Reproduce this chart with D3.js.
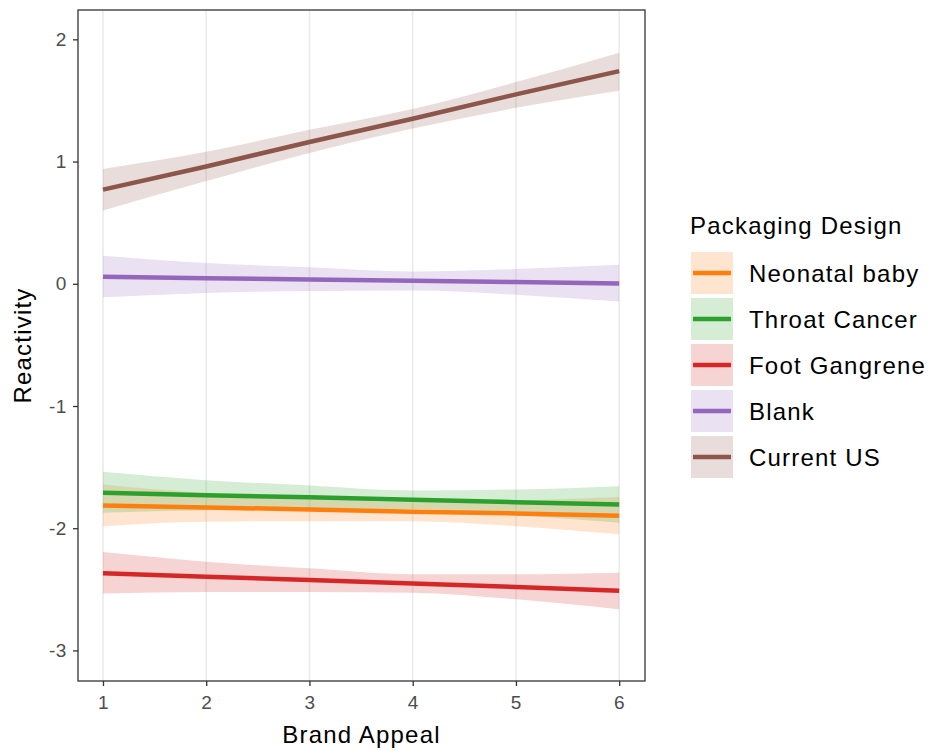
<!DOCTYPE html>
<html>
<head>
<meta charset="utf-8">
<script src="https://cdn.jsdelivr.net/npm/d3@7"></script>
<style>
  body { margin: 0; background: #fff; }
  svg { font-family: "Liberation Sans", Arial, sans-serif; }
</style>
</head>
<body>
<svg id="chart" width="932" height="751"></svg>
<script>
// x positions (Brand Appeal)
const brandAppeal = [1, 2, 3, 4, 5, 6];

const designs = ["Neonatal baby", "Throat Cancer", "Foot Gangrene", "Blank", "Current US"];
const designColours = ["#ff7f0e", "#2ca02c", "#d62728", "#9467bd", "#8c564b"];

// fitted reactivity per design, read at brand appeal 1..6
const fitNeonatal = [-1.814, -1.830, -1.846, -1.865, -1.879, -1.898];
const lowNeonatal = [-1.983, -1.947, -1.942, -1.942, -1.983, -2.050];
const highNeonatal = [-1.642, -1.713, -1.750, -1.788, -1.775, -1.745];

const fitThroat = [-1.710, -1.730, -1.746, -1.767, -1.787, -1.806];
const lowThroat = [-1.873, -1.853, -1.842, -1.843, -1.891, -1.955];
const highThroat = [-1.538, -1.607, -1.650, -1.691, -1.683, -1.656];

const fitFoot = [-2.369, -2.397, -2.424, -2.453, -2.481, -2.511];
const lowFoot = [-2.535, -2.522, -2.522, -2.527, -2.582, -2.663];
const highFoot = [-2.195, -2.274, -2.328, -2.377, -2.377, -2.364];

const fitBlank = [0.057, 0.046, 0.035, 0.025, 0.014, 0.003];
const lowBlank = [-0.110, -0.075, -0.060, -0.055, -0.090, -0.145];
const highBlank = [0.230, 0.170, 0.135, 0.100, 0.120, 0.155];

const fitCurrent = [0.770, 0.960, 1.160, 1.350, 1.550, 1.740];
const lowCurrent = [0.600, 0.840, 1.070, 1.270, 1.440, 1.580];
const highCurrent = [0.940, 1.080, 1.260, 1.430, 1.650, 1.890];

const xTicks = [1, 2, 3, 4, 5, 6];
const yTicks = [2, 1, 0, -1, -2, -3];

const fits = [fitNeonatal, fitThroat, fitFoot, fitBlank, fitCurrent];
const lows = [lowNeonatal, lowThroat, lowFoot, lowBlank, lowCurrent];
const highs = [highNeonatal, highThroat, highFoot, highBlank, highCurrent];

let series = designs.map((name, i) => ({
	name: name,
	colour: designColours[i],
	points: brandAppeal.map((x, j) => ({ x: x, fit: fits[i][j], lo: lows[i][j], hi: highs[i][j] })),
}));

let margin = { top: 10, right: 287, bottom: 70, left: 78 };
const svg = d3.select("#chart");
const W = +svg.attr("width"), H = +svg.attr("height");
const panelW = W - margin.left - margin.right;
const panelH = H - margin.top - margin.bottom;

let x = d3.scaleLinear().domain([0.758, 6.25]).range([margin.left, margin.left + panelW]);
let y = d3.scaleLinear().domain([-3.25, 2.24]).range([margin.top + panelH, margin.top]);

// vertical grid only
svg.append("g")
	.selectAll("line")
	.data(xTicks)
	.enter()
	.append("line")
	.attr("x1", (d) => x(d))
	.attr("x2", (d) => x(d))
	.attr("y1", margin.top)
	.attr("y2", margin.top + panelH)
	.attr("stroke", "#ebebeb")
	.attr("stroke-width", 1.6);

let area = d3.area()
	.x((d) => x(d.x))
	.y0((d) => y(d.lo))
	.y1((d) => y(d.hi))
	.curve(d3.curveMonotoneX);

let line = d3.line()
	.x((d) => x(d.x))
	.y((d) => y(d.fit));

svg.append("g")
	.selectAll("path")
	.data(series)
	.enter()
	.append("path")
	.attr("d", (d) => area(d.points))
	.attr("fill", (d) => d.colour)
	.attr("fill-opacity", 0.2);

svg.append("g")
	.selectAll("path")
	.data(series)
	.enter()
	.append("path")
	.attr("d", (d) => line(d.points))
	.attr("fill", "none")
	.attr("stroke", (d) => d.colour)
	.attr("stroke-width", 4.5);

// panel border
svg.append("rect")
	.attr("x", margin.left)
	.attr("y", margin.top)
	.attr("width", panelW)
	.attr("height", panelH)
	.attr("fill", "none")
	.attr("stroke", "#333333")
	.attr("stroke-width", 1.3);

// axes
let xAxis = svg.append("g")
	.attr("transform", `translate(0,${margin.top + panelH})`)
	.call(d3.axisBottom(x).tickValues(xTicks).tickSize(5).tickPadding(6).tickFormat(d3.format("d")));
let yAxis = svg.append("g")
	.attr("transform", `translate(${margin.left},0)`)
	.call(d3.axisLeft(y).tickValues(yTicks).tickSize(5).tickPadding(6).tickFormat((d) => (d < 0 ? "-" + Math.abs(d) : d)));

[xAxis, yAxis].forEach((a) => {
	a.select(".domain").remove();
	a.selectAll(".tick line").attr("stroke", "#333333").attr("stroke-width", 1.3);
	a.selectAll(".tick text")
		.attr("fill", "#4d4d4d")
		.attr("font-size", 19)
		.attr("letter-spacing", 0.6)
		.attr("font-family", null);
});
xAxis.selectAll(".tick text").attr("dy", "0.9em");

svg.append("text")
	.attr("x", margin.left + panelW / 2)
	.attr("y", 743)
	.attr("text-anchor", "middle")
	.attr("font-size", 24)
	.attr("letter-spacing", 1.2)
	.text("Brand Appeal");

svg.append("text")
	.attr("transform", `translate(31,${margin.top + panelH / 2}) rotate(-90)`)
	.attr("text-anchor", "middle")
	.attr("font-size", 24)
	.attr("letter-spacing", 1.2)
	.text("Reactivity");

// legend
let legend = svg.append("g").attr("transform", "translate(690,0)");
legend.append("text")
	.attr("x", 0)
	.attr("y", 234)
	.attr("font-size", 24)
	.attr("letter-spacing", 1.2)
	.text("Packaging Design");

let keys = legend.selectAll("g.key")
	.data(series)
	.enter()
	.append("g")
	.attr("class", "key")
	.attr("transform", (d, i) => `translate(0,${251 + i * 46})`);

keys.append("rect")
	.attr("x", 1)
	.attr("y", 1)
	.attr("width", 42)
	.attr("height", 42)
	.attr("fill", (d) => d.colour)
	.attr("fill-opacity", 0.2);
keys.append("line")
	.attr("x1", 3)
	.attr("x2", 41)
	.attr("y1", 22)
	.attr("y2", 22)
	.attr("stroke", (d) => d.colour)
	.attr("stroke-width", 4.5);
keys.append("text")
	.attr("x", 59)
	.attr("y", 22)
	.attr("dy", "0.36em")
	.attr("font-size", 24)
	.attr("letter-spacing", 1.2)
	.text((d) => d.name);
</script>
</body>
</html>
